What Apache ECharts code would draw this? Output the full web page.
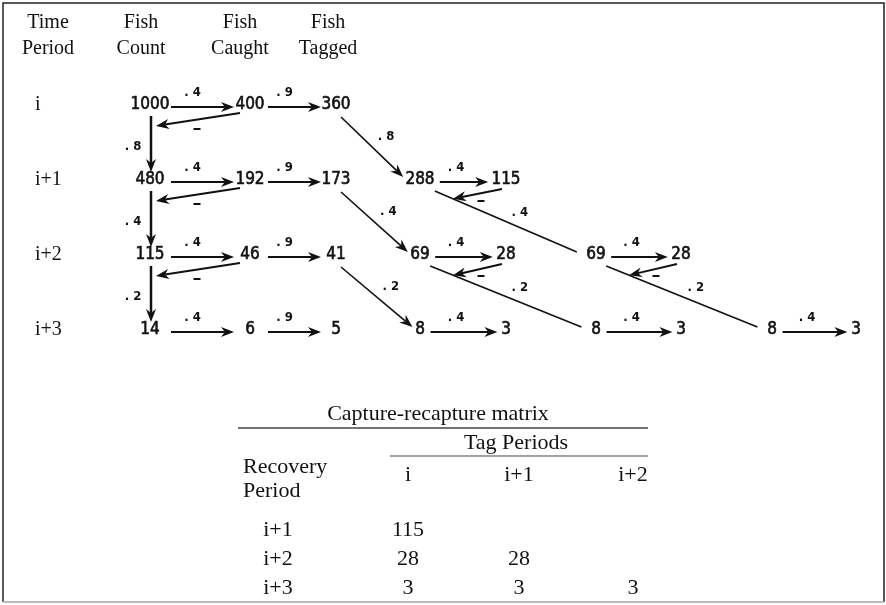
<!DOCTYPE html>
<html>
<head>
<meta charset="utf-8">
<title>Fish tagging flow and capture-recapture matrix</title>
<script src="https://cdn.jsdelivr.net/npm/echarts@6/dist/echarts.min.js"></script>
<style>
    html, body { margin: 0; padding: 0; background: #fff; }
    #chart { width: 886px; height: 605px; }
</style>
</head>
<body>
<div id="chart"></div>
<script type="text/javascript">
// ---- data ----
var periods = ['i', 'i+1', 'i+2', 'i+3'];
var fishCount = [1000, 480, 115, 14];
var fishCaught = [400, 192, 46, 6];
var fishTagged = [360, 173, 41, 5];
var survivalRate = ['.8', '.4', '.2'];   // from period r to r+1
var catchRate = '.4';
var tagRate = '.9';
// tagged fish still alive, by tag period, then by age (1, 2, 3 periods later)
var taggedAlive = [[288, 69, 8], [69, 8], [8]];
var recaptured = [[115, 28, 3], [28, 3], [3]];
var headers = [['Time', 'Period'], ['Fish', 'Count'], ['Fish', 'Caught'], ['Fish', 'Tagged']];
var tagPeriods = ['i', 'i+1', 'i+2'];
var recoveryPeriods = ['i+1', 'i+2', 'i+3'];

// ---- layout ----
var INK = '#111';
var FONT_HEAD = '20px "Liberation Serif", "Times New Roman", serif';
var FONT_TABLE = '22px "Liberation Serif", "Times New Roman", serif';
var FONT_NUM = '17px "DejaVu Sans Condensed", "Liberation Sans Narrow", sans-serif';
var FONT_RATE = 'bold 13px "DejaVu Sans Condensed", "Liberation Sans Narrow", sans-serif';
var COL = {period: 35, count: 150, caught: 250, tagged: 336};
var HEAD_X = [48, 141, 240, 328];
var AGE_COUNT_X = [420, 596, 772];
var AGE_CAUGHT_X = [506, 681, 856];
function rowY(r) { return 105 + 75 * r; }
function halfW(n) { return String(n).length * 4.6; }
function rateText(s) { return s.replace('.', '. '); }

var texts = [];
var arrows = [];
function txt(x, y, text, font, align, bold) {
    texts.push({x: x, y: y, text: String(text), font: font, align: align || 'center', bold: !!bold});
}
function arrow(x1, y1, x2, y2, w, head, color) {
    arrows.push({x1: x1, y1: y1, x2: x2, y2: y2, w: w, head: head, color: color || INK});
}
// the short minus mark under each return arrow
function minus(x, y) { arrow(x - 3.5, y, x + 3.5, y, 2, false); }

// headers
headers.forEach(function (h, k) {
    txt(HEAD_X[k], 23, h[0], FONT_HEAD);
    txt(HEAD_X[k], 49, h[1], FONT_HEAD);
});

// main flow: count -> caught -> tagged, survival down the count column
periods.forEach(function (p, r) {
    var y = rowY(r);
    txt(COL.period, y, p, FONT_HEAD, 'left');
    txt(COL.count, y, fishCount[r], FONT_NUM, 'center', true);
    txt(COL.caught, y, fishCaught[r], FONT_NUM, 'center', true);
    txt(COL.tagged, y, fishTagged[r], FONT_NUM, 'center', true);

    var a1 = COL.count + 21, a2 = COL.caught - 16;
    arrow(a1, y + 2, a2, y + 2, 2, true);
    txt((a1 + a2) / 2 - 10, y - 12, rateText(catchRate), FONT_RATE);
    var b1 = COL.caught + 18, b2 = COL.tagged - 15;
    arrow(b1, y + 2, b2, y + 2, 2, true);
    txt((b1 + b2) / 2 - 10, y - 12, rateText(tagRate), FONT_RATE);

    if (r < periods.length - 1) {
        arrow(COL.count + 1, y + 11, COL.count + 1, rowY(r + 1) - 8, 2.5, true);
        txt(COL.count - 17, y + 42, rateText(survivalRate[r]), FONT_RATE);
        arrow(COL.caught - 10, y + 8, COL.count + 6, y + 21, 2, true);
        minus(COL.caught - 53, y + 24);
        // tagged fish move to the age-1 column of the next period
        var nx = AGE_COUNT_X[0] - halfW(taggedAlive[r][0]) - 3, ny = rowY(r + 1) - 3;
        var sx = COL.tagged + 5, sy = y + 12;
        arrow(sx, sy, nx, ny, 1.6, true);
        txt((sx + nx) / 2 + 14, (sy + ny) / 2 - 10, rateText(survivalRate[r]), FONT_RATE);
    }
});

// tagged cohorts: alive -> recaptured, survival to the next age
taggedAlive.forEach(function (cohort, c) {
    cohort.forEach(function (alive, a) {
        var r = c + 1 + a, y = rowY(r);
        var x0 = AGE_COUNT_X[a], x1 = AGE_CAUGHT_X[a];
        var rec = recaptured[c][a];
        txt(x0, y, alive, FONT_NUM, 'center', true);
        txt(x1, y, rec, FONT_NUM, 'center', true);
        var s = x0 + halfW(alive) + 6, e = x1 - halfW(rec) - 4;
        arrow(s, y + 2, e, y + 2, 2, true);
        txt((s + e) / 2 - 8, y - 12, rateText(catchRate), FONT_RATE);
        if (a < cohort.length - 1) {
            var lx1 = x0 + halfW(alive) + 1, ly1 = y + 11;
            var lx2 = AGE_COUNT_X[a + 1] - halfW(cohort[a + 1]) - 10, ly2 = rowY(r + 1) - 3;
            arrow(lx1, ly1, lx2, ly2, 1.6, false);
            txt((lx1 + lx2) / 2 + 14, (ly1 + ly2) / 2 - 9, rateText(survivalRate[r]), FONT_RATE);
            var hx = x0 + 33, hy = ly1 + (ly2 - ly1) * (hx - lx1) / (lx2 - lx1);
            arrow(x1 - 4, y + 9, hx, hy, 2, true);
            minus(x1 - 25, y + 21);
        }
    });
});

// capture-recapture matrix
var MATRIX_COL_X = [408, 519, 633];
txt(438, 414, 'Capture-recapture matrix', FONT_TABLE);
arrow(238, 428, 648, 428, 1.5, false, '#444');
txt(516, 443, 'Tag Periods', FONT_TABLE);
arrow(390, 456, 648, 456, 1.2, false, '#444');
txt(243, 467, 'Recovery', FONT_TABLE, 'left');
txt(243, 491, 'Period', FONT_TABLE, 'left');
tagPeriods.forEach(function (t, c) { txt(MATRIX_COL_X[c], 475, t, FONT_TABLE); });
recoveryPeriods.forEach(function (rp, k) {
    var y = 530 + 29 * k;
    txt(278, y, rp, FONT_TABLE);
    tagPeriods.forEach(function (t, c) {
        if (k >= c) txt(MATRIX_COL_X[c], y, recaptured[c][k - c], FONT_TABLE);
    });
});

// ---- chart ----
function renderArrow(params, api) {
    var a = arrows[params.dataIndex];
    var p1 = api.coord([a.x1, a.y1]);
    var p2 = api.coord([a.x2, a.y2]);
    var children = [];
    var end = p2;
    if (a.head) {
        var dx = p2[0] - p1[0], dy = p2[1] - p1[1];
        var len = Math.sqrt(dx * dx + dy * dy);
        var ux = dx / len, uy = dy / len, nx = -uy, ny = ux;
        var L = 13, W = 5;
        var bx = p2[0] - ux * L, by = p2[1] - uy * L;
        var notch = [p2[0] - ux * L * 0.7, p2[1] - uy * L * 0.7];
        children.push({
            type: 'polygon',
            shape: {points: [p2, [bx + nx * W, by + ny * W], notch, [bx - nx * W, by - ny * W]]},
            style: {fill: a.color}
        });
        end = notch;
    }
    children.unshift({
        type: 'line',
        shape: {x1: p1[0], y1: p1[1], x2: end[0], y2: end[1]},
        style: {stroke: a.color, lineWidth: a.w}
    });
    return {type: 'group', children: children};
}

function renderText(params, api) {
    var t = texts[params.dataIndex];
    var p = api.coord([t.x, t.y]);
    var style = {
        text: t.text, font: t.font, fill: INK,
        align: t.align, verticalAlign: 'middle',
        textAlign: t.align, textVerticalAlign: 'middle'
    };
    if (t.bold) {
        // printed digits are heavier than the regular face
        style.stroke = INK;
        style.lineWidth = 0.6;
    }
    return {type: 'text', x: p[0], y: p[1], style: style};
}

var chart = echarts.init(document.getElementById('chart'));
var option = {
    animation: false,
    backgroundColor: '#fff',
    grid: {left: 0, right: 0, top: 0, bottom: 0},
    xAxis: {type: 'value', min: 0, max: 886, show: false},
    yAxis: {type: 'value', min: 0, max: 605, inverse: true, show: false},
    graphic: [
        {type: 'polyline', silent: true, shape: {points: [[3, 602], [3, 3], [884, 3], [884, 602]]},
            style: {stroke: '#222', lineWidth: 1.5, fill: null}},
        {type: 'line', silent: true, shape: {x1: 3, y1: 602, x2: 884, y2: 602},
            style: {stroke: '#bbb', lineWidth: 2}}
    ],
    series: [
        {
            type: 'custom',
            silent: true,
            clip: false,
            renderItem: renderArrow,
            encode: {x: [0, 2], y: [1, 3]},
            data: arrows.map(function (a) { return [a.x1, a.y1, a.x2, a.y2]; })
        },
        {
            type: 'custom',
            silent: true,
            clip: false,
            renderItem: renderText,
            encode: {x: 0, y: 1},
            data: texts.map(function (t) { return [t.x, t.y]; })
        }
    ]
};
chart.setOption(option);
</script>
</body>
</html>
